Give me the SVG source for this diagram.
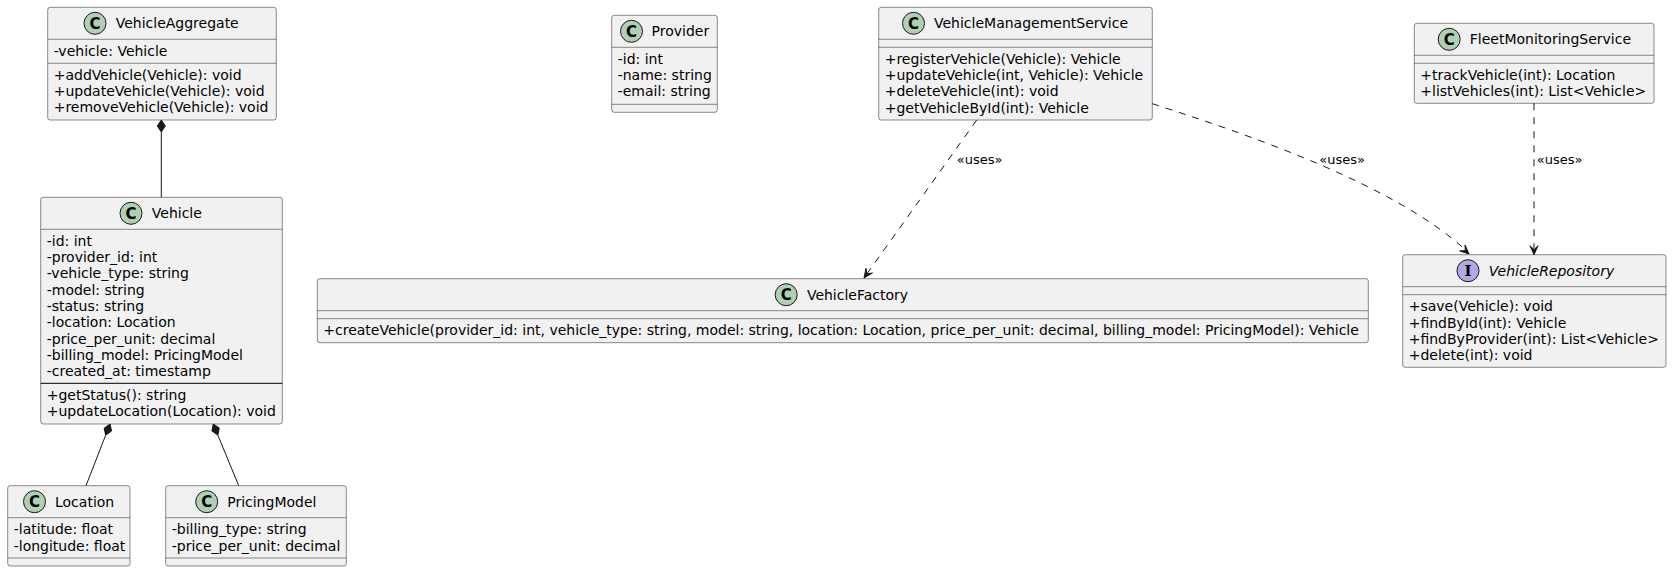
<svg xmlns="http://www.w3.org/2000/svg" width="1672" height="572" viewBox="0 0 1672 572">
<style>
.box{fill:#F1F1F1;stroke:#181818;stroke-width:0.5}
.sep{stroke:#181818;stroke-width:0.5}
.sepb{stroke:#000000;stroke-width:1}
text{font-family:"DejaVu Sans",sans-serif;font-size:14px;fill:#000000}
.lbl{font-size:13px}
.ital{font-style:italic}
.cc{fill:#ADD1B2;stroke:#181818;stroke-width:1}
.ci{fill:#B4A7E5;stroke:#181818;stroke-width:1}
.cl{font-weight:bold;font-size:15px;text-anchor:middle}
.il{font-family:"DejaVu Serif",serif;font-weight:bold;font-size:15px;text-anchor:middle}
.dep{fill:none;stroke:#181818;stroke-width:1;stroke-dasharray:7,7}
.comp{fill:none;stroke:#181818;stroke-width:1}
.head{fill:#181818;stroke:#181818;stroke-width:1}
</style>
<rect width="1672" height="572" fill="#FFFFFF"/>

<g id="VehicleAggregate">
<rect class="box" x="47.7" y="7.3" width="228.6" height="112.7" rx="2.5"/>
<circle class="cc" cx="95" cy="23.3" r="11"/><text class="cl" x="95" y="28.8">C</text>
<text x="115.7" y="28.3">VehicleAggregate</text>
<line class="sep" x1="47.7" y1="39.3" x2="276.3" y2="39.3"/>
<text x="53.7" y="55.8">-vehicle: Vehicle</text>
<line class="sep" x1="47.7" y1="63.3" x2="276.3" y2="63.3"/>
<text x="53.7" y="79.8">+addVehicle(Vehicle): void</text>
<text x="53.7" y="96.1">+updateVehicle(Vehicle): void</text>
<text x="53.7" y="112.4">+removeVehicle(Vehicle): void</text>
</g>

<g id="Vehicle">
<rect class="box" x="40.7" y="197.3" width="241.6" height="226.7" rx="2.5"/>
<circle class="cc" cx="131" cy="213.3" r="11"/><text class="cl" x="131" y="218.8">C</text>
<text x="151.8" y="218.3">Vehicle</text>
<line class="sep" x1="40.7" y1="229.3" x2="282.3" y2="229.3"/>
<text x="46.7" y="245.8">-id: int</text>
<text x="46.7" y="262.1">-provider_id: int</text>
<text x="46.7" y="278.4">-vehicle_type: string</text>
<text x="46.7" y="294.7">-model: string</text>
<text x="46.7" y="311">-status: string</text>
<text x="46.7" y="327.3">-location: Location</text>
<text x="46.7" y="343.6">-price_per_unit: decimal</text>
<text x="46.7" y="359.9">-billing_model: PricingModel</text>
<text x="46.7" y="376.2">-created_at: timestamp</text>
<line class="sepb" x1="40.7" y1="383.3" x2="282.3" y2="383.3"/>
<text x="46.7" y="399.8">+getStatus(): string</text>
<text x="46.7" y="416.1">+updateLocation(Location): void</text>
</g>

<g id="Location">
<rect class="box" x="7.7" y="485.7" width="122.3" height="80.3" rx="2.5"/>
<circle class="cc" cx="34.5" cy="501.7" r="11"/><text class="cl" x="34.5" y="507.2">C</text>
<text x="55" y="506.7">Location</text>
<line class="sep" x1="7.7" y1="517.7" x2="130" y2="517.7"/>
<text x="13.7" y="534.2">-latitude: float</text>
<text x="13.7" y="550.5">-longitude: float</text>
<line class="sep" x1="7.7" y1="558" x2="130" y2="558"/>
</g>

<g id="PricingModel">
<rect class="box" x="165.7" y="485.7" width="180.6" height="80.3" rx="2.5"/>
<circle class="cc" cx="206.7" cy="501.7" r="11"/><text class="cl" x="206.7" y="507.2">C</text>
<text x="227.2" y="506.7">PricingModel</text>
<line class="sep" x1="165.7" y1="517.7" x2="346.3" y2="517.7"/>
<text x="171.7" y="534.2">-billing_type: string</text>
<text x="171.7" y="550.5">-price_per_unit: decimal</text>
<line class="sep" x1="165.7" y1="558" x2="346.3" y2="558"/>
</g>

<g id="Provider">
<rect class="box" x="611.7" y="15.3" width="105.6" height="97" rx="2.5"/>
<circle class="cc" cx="631.5" cy="31.3" r="11"/><text class="cl" x="631.5" y="36.8">C</text>
<text x="651.5" y="36.3">Provider</text>
<line class="sep" x1="611.7" y1="47.3" x2="717.3" y2="47.3"/>
<text x="617.7" y="63.8">-id: int</text>
<text x="617.7" y="80.1">-name: string</text>
<text x="617.7" y="96.4">-email: string</text>
<line class="sep" x1="611.7" y1="104.3" x2="717.3" y2="104.3"/>
</g>

<g id="VehicleManagementService">
<rect class="box" x="878.7" y="7.3" width="273.6" height="112.7" rx="2.5"/>
<circle class="cc" cx="913.5" cy="23.3" r="11"/><text class="cl" x="913.5" y="28.8">C</text>
<text x="934" y="28.3">VehicleManagementService</text>
<line class="sep" x1="878.7" y1="39.3" x2="1152.3" y2="39.3"/>
<line class="sep" x1="878.7" y1="47.3" x2="1152.3" y2="47.3"/>
<text x="884.7" y="63.8">+registerVehicle(Vehicle): Vehicle</text>
<text x="884.7" y="80.1">+updateVehicle(int, Vehicle): Vehicle</text>
<text x="884.7" y="96.4">+deleteVehicle(int): void</text>
<text x="884.7" y="112.7">+getVehicleById(int): Vehicle</text>
</g>

<g id="FleetMonitoringService">
<rect class="box" x="1414.3" y="23.3" width="239.7" height="80" rx="2.5"/>
<circle class="cc" cx="1449.2" cy="39.3" r="11"/><text class="cl" x="1449.2" y="44.8">C</text>
<text x="1469.8" y="44.3">FleetMonitoringService</text>
<line class="sep" x1="1414.3" y1="55.3" x2="1654" y2="55.3"/>
<line class="sep" x1="1414.3" y1="63.3" x2="1654" y2="63.3"/>
<text x="1420.3" y="79.8">+trackVehicle(int): Location</text>
<text x="1420.3" y="96.1">+listVehicles(int): List&lt;Vehicle&gt;</text>
</g>

<g id="VehicleFactory">
<rect class="box" x="317.3" y="278.7" width="1051" height="64" rx="2.5"/>
<circle class="cc" cx="786.2" cy="294.7" r="11"/><text class="cl" x="786.2" y="300.2">C</text>
<text x="806.9" y="299.7">VehicleFactory</text>
<line class="sep" x1="317.3" y1="310.7" x2="1368.3" y2="310.7"/>
<line class="sep" x1="317.3" y1="318.7" x2="1368.3" y2="318.7"/>
<text x="323.3" y="335.2">+createVehicle(provider_id: int, vehicle_type: string, model: string, location: Location, price_per_unit: decimal, billing_model: PricingModel): Vehicle</text>
</g>

<g id="VehicleRepository">
<rect class="box" x="1402.7" y="254.7" width="263.3" height="112.6" rx="2.5"/>
<circle class="ci" cx="1468" cy="270.7" r="11"/><text class="il" x="1468" y="276.2">I</text>
<text class="ital" x="1488.8" y="275.7">VehicleRepository</text>
<line class="sep" x1="1402.7" y1="286.7" x2="1666" y2="286.7"/>
<line class="sep" x1="1402.7" y1="294.7" x2="1666" y2="294.7"/>
<text x="1408.7" y="311.2">+save(Vehicle): void</text>
<text x="1408.7" y="327.5">+findById(int): Vehicle</text>
<text x="1408.7" y="343.8">+findByProvider(int): List&lt;Vehicle&gt;</text>
<text x="1408.7" y="360.1">+delete(int): void</text>
</g>

<g id="connectors">
<line class="comp" x1="161.3" y1="132" x2="161.3" y2="197.3"/>
<polygon class="head" points="161.3,120 157.3,126 161.3,132 165.3,126"/>

<line class="comp" x1="105.65" y1="435.18" x2="86" y2="485.7"/>
<polygon class="head" points="110,424 104.1,428.14 105.65,435.18 111.55,431.04"/>

<line class="comp" x1="217.87" y1="435.1" x2="238.7" y2="485.7"/>
<polygon class="head" points="213.3,424 211.89,431.07 217.87,435.1 219.29,428.03"/>

<path class="dep" d="M976.7,120 L866.9,273.9"/>
<polygon class="head" points="864,278 872.48,273 866.9,273.93 865.97,268.35"/>
<text class="lbl" x="956.7" y="163.5">«uses»</text>

<path class="dep" d="M1152.3,103.7 C1250,135 1395,185 1466.3,250.6"/>
<polygon class="head" points="1469,254 1459.66,250.9 1465.31,250.64 1465.04,244.99"/>
<text class="lbl" x="1319.3" y="163.5">«uses»</text>

<path class="dep" d="M1534,103.3 L1534,249.7"/>
<polygon class="head" points="1534,254.7 1530,245.7 1534,249.7 1538,245.7"/>
<text class="lbl" x="1536.7" y="163.5">«uses»</text>
</g>
</svg>
